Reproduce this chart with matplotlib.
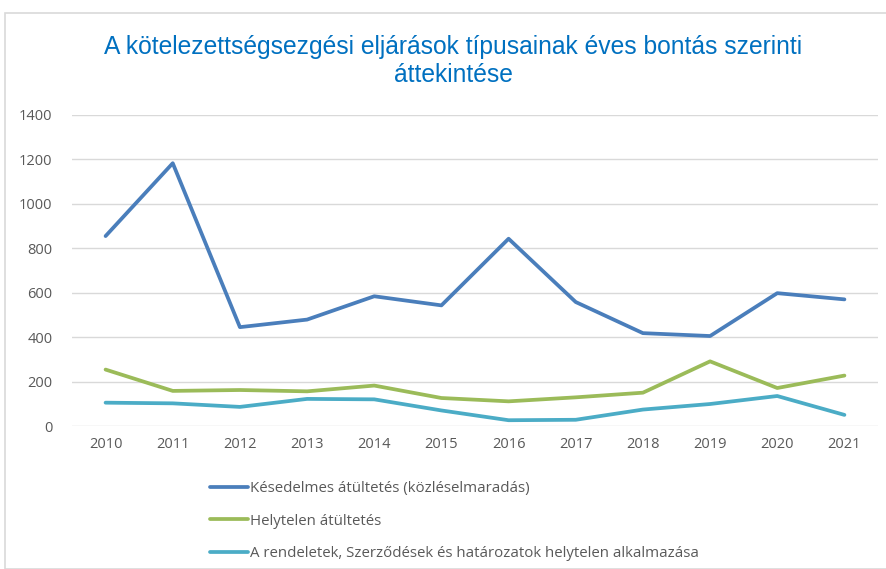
import matplotlib
matplotlib.use("Agg")
import matplotlib.pyplot as plt
from matplotlib.patches import Rectangle

years = ["2010", "2011", "2012", "2013", "2014", "2015", "2016", "2017", "2018", "2019", "2020", "2021"]
kesedelmes = [855, 1183, 445, 479, 584, 543, 843, 558, 418, 405, 598, 570]
helytelen = [254, 158, 162, 156, 182, 126, 111, 129, 150, 291, 171, 227]
rendeletek = [105, 102, 86, 122, 120, 70, 26, 28, 74, 99, 135, 50]
labels = ["Késedelmes átültetés (közléselmaradás)",
          "Helytelen átültetés",
          "A rendeletek, Szerződések és határozatok helytelen alkalmazása"]
title = "A kötelezettségsezgési eljárások típusainak éves bontás szerinti\náttekintése"

plt.rcParams['font.family'] = ['Open Sans', 'DejaVu Sans']

W, H = 886, 569
fig = plt.figure(figsize=(W/100, H/100), dpi=100)

# outer frame
fig.patches.append(Rectangle((5/W, 0), 1, 1 - 13/H, transform=fig.transFigure,
                             fill=False, edgecolor="#D9D9D9", linewidth=1.2))

ax = fig.add_axes([72/W, 1 - 426/H, (878-72)/W, (426-115)/H])
x = list(range(len(years)))
c1, c2, c3 = "#4A7EBB", "#9BBB59", "#4BACC6"
l1, = ax.plot(x, kesedelmes, color=c1, lw=2.7, solid_capstyle='round', solid_joinstyle='round')
l2, = ax.plot(x, helytelen, color=c2, lw=2.7, solid_capstyle='round', solid_joinstyle='round')
l3, = ax.plot(x, rendeletek, color=c3, lw=2.7, solid_capstyle='round', solid_joinstyle='round')

ax.set_xlim(-0.5, len(years) - 0.5)
ax.set_ylim(0, 1400)
ax.set_yticks(range(0, 1401, 200))
ax.set_xticks(x)
ax.set_xticklabels(years)
ax.grid(axis='y', color="#D9D9D9", lw=1)
ax.set_axisbelow(True)
for s in ax.spines.values():
    s.set_visible(False)
ax.tick_params(length=0, colors="#595959", labelsize=10.5)
ax.tick_params(axis='y', pad=14)
ax.tick_params(axis='x', pad=8)

fig.text(453/W, 1 - 61/H, title, ha='center', va='center', fontsize=17.7,
         color="#0070C0", family=['Liberation Sans', 'DejaVu Sans'], linespacing=1.25)

fig.legend([l1, l2, l3], labels, loc='upper left', bbox_to_anchor=(210/W, 1 - 481/H),
           frameon=False, fontsize=10.8, handlelength=2.5, handletextpad=0.2,
           labelspacing=1.18, labelcolor="#595959", borderaxespad=0, borderpad=0)

fig.savefig("out.png", dpi=100)
